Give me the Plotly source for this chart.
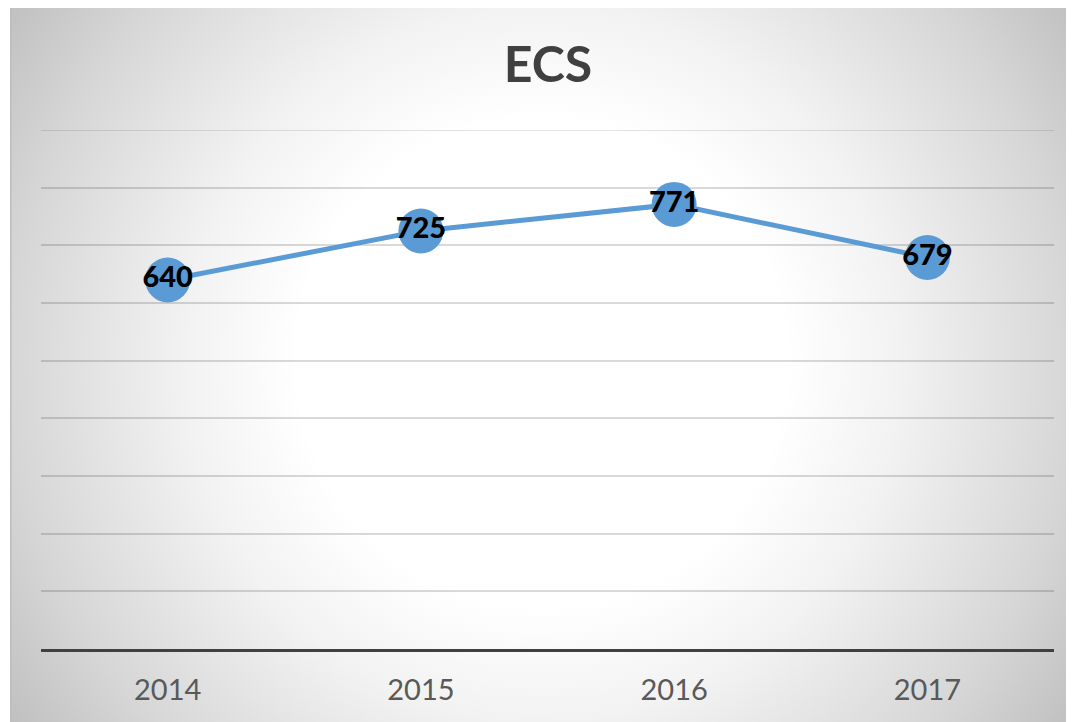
import base64
import plotly.graph_objects as go

years = ["2014", "2015", "2016", "2017"]
values = [640, 725, 771, 679]
title_text = "ECS"
y_max = 900
y_step = 100

# page body adds 8px margin; figure sized to fill remaining window
OFF = 8
W, H = 1074 - OFF, 722 - OFF
ml, mr, mt, mb = 41 - OFF, 20, 130 - OFF, 73
pw, ph = W - ml - mr, H - mt - mb

# radial gradient background (chart area)
bx0, by0 = 10 - OFF, 0
bw, bh = W - bx0, H - by0
cx, cy = 542 - OFF - bx0, 363 - OFF - by0
svg = f'''<svg xmlns="http://www.w3.org/2000/svg" width="{bw}" height="{bh}" viewBox="0 0 {bw} {bh}" preserveAspectRatio="none">
<defs><radialGradient id="g" gradientUnits="userSpaceOnUse" cx="{cx}" cy="{cy}" r="641">
<stop offset="0" stop-color="#ffffff"/>
<stop offset="0.38" stop-color="#ffffff"/>
<stop offset="0.56" stop-color="#f2f2f2"/>
<stop offset="0.83" stop-color="#d6d6d6"/>
<stop offset="1" stop-color="#c0c0c0"/>
</radialGradient></defs>
<rect x="0" y="0" width="{bw}" height="{bh}" fill="url(#g)"/>
<line x1="0.75" y1="0" x2="0.75" y2="{bh}" stroke="#bdbdbd" stroke-width="1.5"/>
</svg>'''
uri = "data:image/svg+xml;base64," + base64.b64encode(svg.encode()).decode()

fig = go.Figure()
fig.add_trace(go.Scatter(
    x=years, y=values, mode="lines+markers+text",
    line=dict(color="#5B9BD5", width=5),
    marker=dict(size=45, color="#5B9BD5"),
    text=[str(v) for v in values],
    textposition="middle center",
    textfont=dict(family="Lato", size=29, color="#000000", weight=900),
    hoverinfo="skip", showlegend=False, cliponaxis=False,
))

fig.add_layout_image(dict(
    source=uri, xref="paper", yref="paper",
    x=(bx0 - ml) / pw, y=(H - mb - by0) / ph,
    sizex=bw / pw, sizey=bh / ph,
    xanchor="left", yanchor="top", sizing="stretch", layer="below",
))

# top gridline (at the plot edge, which plotly omits)
fig.add_shape(type="line", xref="paper", yref="y", x0=0, x1=1, y0=y_max, y1=y_max,
              line=dict(color="rgba(0,0,0,0.15)", width=1.5), layer="below")

fig.update_layout(
    width=W, height=H,
    margin=dict(l=ml, r=mr, t=mt, b=mb, pad=0),
    paper_bgcolor="#ffffff", plot_bgcolor="rgba(0,0,0,0)",
    title=dict(text="<b>" + title_text + "</b>", x=(548 - OFF) / W, xanchor="center",
               y=1 - (64 - OFF) / H, yanchor="middle",
               font=dict(family="Lato", size=50, color="#404040")),
    xaxis=dict(range=[-0.5, len(years) - 0.5], showgrid=False, showline=True,
               linecolor="#404040", linewidth=3,
               ticks="", tickfont=dict(family="Lato", size=29, color="#595959"),
               ticklabelstandoff=13, zeroline=False, fixedrange=True),
    yaxis=dict(range=[0, y_max], dtick=y_step, showticklabels=False, showgrid=True,
               gridcolor="rgba(0,0,0,0.15)", gridwidth=1.5, zeroline=False,
               showline=False, ticks="", fixedrange=True),
)

fig.write_html("out.html")
